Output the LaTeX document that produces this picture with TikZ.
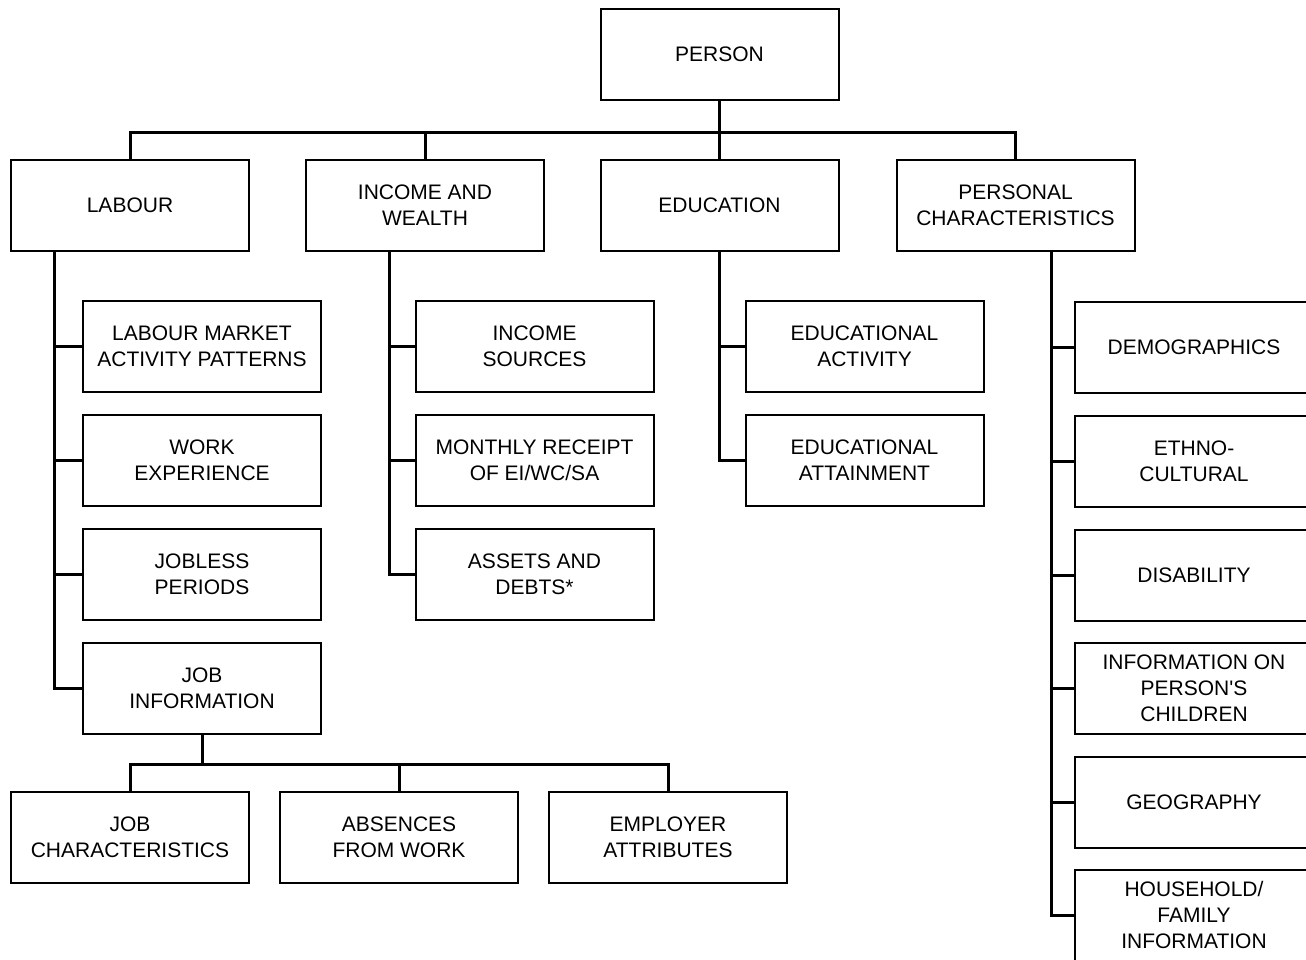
\documentclass[tikz,border=0pt]{standalone}
\usepackage{fontspec}
\setmainfont{Liberation Sans}[Ligatures=TeXOff]
\usepackage{tikz}

\begin{document}
\begin{tikzpicture}[x=1pt,y=-1pt]
    \tikzstyle{box}=[draw=black,rectangle,line width=2pt,minimum width=238pt,minimum height=91pt,align=center,font=\fontsize{21}{26}\selectfont,inner sep=0pt,text depth=-1pt]
    \tikzstyle{line}=[draw=black,line width=3pt]

    \useasboundingbox (0,0) rectangle (1306,959);
    \clip (0,0) rectangle (1306,959);

    \node[box] (P) at (719.5,54.5) {PERSON};

    \node[box] (LAB) at (130,205.5)   {LABOUR};
    \node[box] (INC) at (425,205.5)   {INCOME AND\\WEALTH};
    \node[box] (EDU) at (719.5,205.5) {EDUCATION};
    \node[box] (PCH) at (1015.5,205.5) {PERSONAL\\CHARACTERISTICS};

    \node[box] (LMAP) at (202,346.5) {LABOUR MARKET\\ACTIVITY PATTERNS};
    \node[box] (WEXP) at (202,460.5) {WORK\\EXPERIENCE};
    \node[box] (JOBL) at (202,574.5) {JOBLESS\\PERIODS};
    \node[box] (JINF) at (202,688.5) {JOB\\INFORMATION};

    \node[box] (JCHAR) at (130,837.5) {JOB\\CHARACTERISTICS};
    \node[box] (ABS)   at (399,837.5) {ABSENCES\\FROM WORK};
    \node[box] (EMP)   at (668,837.5) {EMPLOYER\\ATTRIBUTES};

    \node[box] (INCS) at (534.5,346.5) {INCOME\\SOURCES};
    \node[box] (MREC) at (534.5,460.5) {MONTHLY RECEIPT\\OF EI/WC/SA};
    \node[box] (ASST) at (534.5,574.5) {ASSETS AND\\DEBTS*};

    \node[box] (EDA) at (864.5,346.5) {EDUCATIONAL\\ACTIVITY};
    \node[box] (EDT) at (864.5,460.5) {EDUCATIONAL\\ATTAINMENT};

    \node[box] (DEMO) at (1194,347) {DEMOGRAPHICS};
    \node[box] (ETH)  at (1194,461) {ETHNO-\\CULTURAL};
    \node[box] (DIS)  at (1194,575) {DISABILITY};
    \node[box] (KIDS) at (1194,688) {INFORMATION ON\\PERSON'S\\CHILDREN};
    \node[box] (GEO)  at (1194,802) {GEOGRAPHY};
    \node[box] (HH)   at (1194,915) {HOUSEHOLD/\\FAMILY\\INFORMATION};

    % stems of the four groups
    \coordinate (labx) at (54,0);
    \coordinate (incx) at (389,0);
    \coordinate (pchx) at (1051,0);

    \foreach \c in {LAB,INC,EDU,PCH}
      \draw[line] (P.south) -- ++(0,31) -| (\c.north);
    \foreach \c in {LMAP,WEXP,JOBL,JINF}
      \draw[line] (LAB.south -| labx) |- (\c.west);
    \foreach \c in {JCHAR,ABS,EMP}
      \draw[line] (JINF.south) -- ++(0,29) -| (\c.north);
    \foreach \c in {INCS,MREC,ASST}
      \draw[line] (INC.south -| incx) |- (\c.west);
    \foreach \c in {EDA,EDT}
      \draw[line] (EDU.south) |- (\c.west);
    \foreach \c in {DEMO,ETH,DIS,KIDS,GEO,HH}
      \draw[line] (PCH.south -| pchx) |- (\c.west);
\end{tikzpicture}
\end{document}
